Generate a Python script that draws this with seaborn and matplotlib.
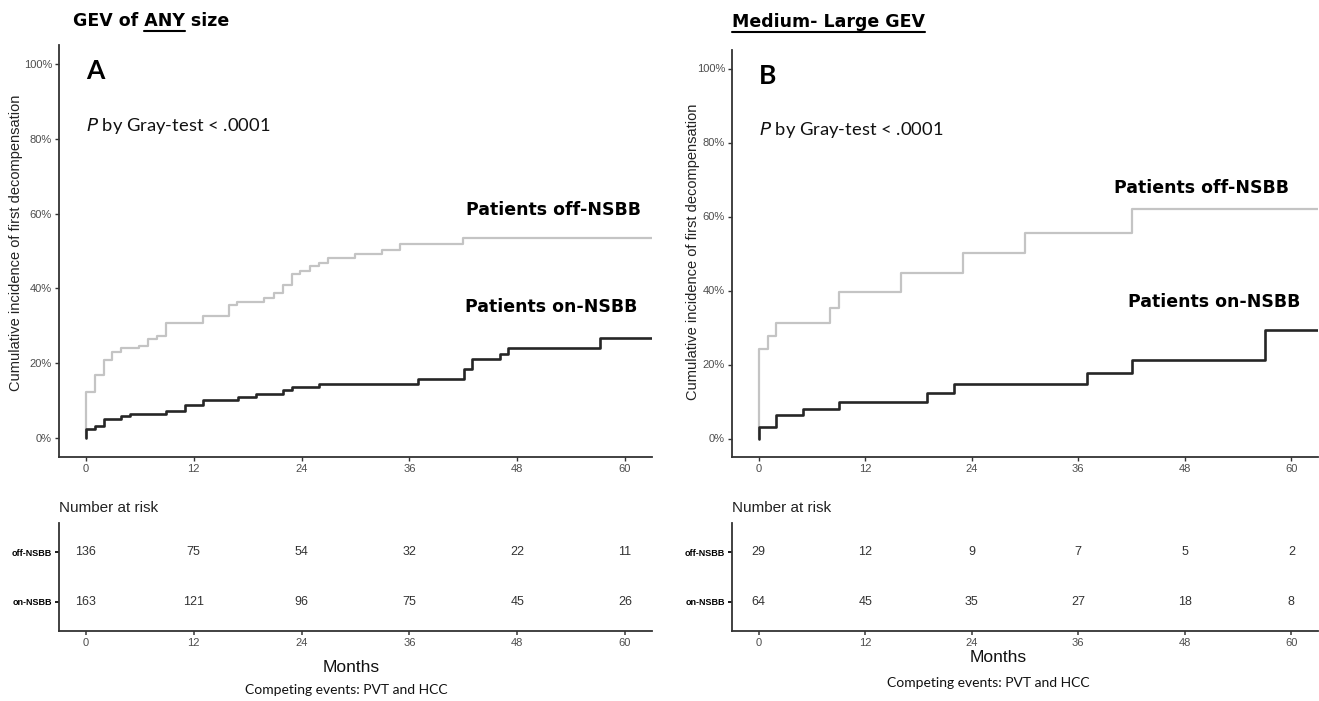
import numpy as np
import pandas as pd
import matplotlib
matplotlib.use("Agg")
import matplotlib.pyplot as plt
from matplotlib.lines import Line2D
import seaborn as sns

# ---------------- data ----------------
months_ticks = [0, 12, 24, 36, 48, 60]
pct_ticks = [0, 20, 40, 60, 80, 100]
groups = ["off-NSBB", "on-NSBB"]

# Panel A (GEV of any size)
a_off_t = [0, 0, 1, 2, 2.9, 3.9, 5.9, 6.9, 7.9, 8.9, 13, 15.9, 16.8, 19.8, 20.9, 21.9,
           22.9, 23.8, 24.9, 25.9, 26.9, 29.9, 33, 34.9, 42, 63]
a_off_y = [0, 12.4, 17.0, 20.9, 23.1, 24.0, 24.7, 26.4, 27.3, 30.8, 32.6, 35.6, 36.5, 37.5,
           38.7, 40.8, 43.8, 44.7, 46.0, 46.9, 48.0, 49.2, 50.4, 52.0, 53.6, 53.6]
a_on_t = [0, 0, 1, 2, 3.9, 4.9, 8.9, 11, 13, 16.9, 18.9, 21.9, 22.9, 25.9, 37, 42.1, 43,
          46.1, 47, 57.2, 63]
a_on_y = [0, 2.4, 3.2, 5.1, 5.9, 6.6, 7.3, 8.8, 10.3, 11.1, 11.9, 12.8, 13.7, 14.5, 15.8,
          18.4, 21.1, 22.6, 24.2, 26.8, 26.8]
a_risk_off = [136, 75, 54, 32, 22, 11]
a_risk_on = [163, 121, 96, 75, 45, 26]

# Panel B (medium-large GEV)
b_off_t = [0, 0, 1, 2, 8, 9, 16, 23, 30, 42, 63]
b_off_y = [0, 24.2, 27.6, 31.3, 35.2, 39.6, 44.7, 50.1, 55.6, 62.0, 62.0]
b_on_t = [0, 0, 2, 5, 9, 19, 22, 37, 42, 57, 63]
b_on_y = [0, 3.2, 6.4, 8.1, 10.0, 12.4, 14.6, 17.8, 21.3, 29.2, 29.2]
b_risk_off = [29, 12, 9, 7, 5, 2]
b_risk_on = [64, 45, 35, 27, 18, 8]

# ---------------- style ----------------
sns.set_theme(style="ticks")
plt.rcParams["font.family"] = ["Liberation Sans", "DejaVu Sans"]
plt.rcParams["axes.linewidth"] = 1.3
plt.rcParams["axes.edgecolor"] = "#333333"

W, H = 1319, 701
fig = plt.figure(figsize=(W / 100, H / 100), dpi=100)

def rect(l, t, r, b):
    return [l / W, 1 - b / H, (r - l) / W, (b - t) / H]

palette = {"off-NSBB": "#c4c4c4", "on-NSBB": "#262626"}
calib = ["Lato", "DejaVu Sans"]
wide = ["DejaVu Sans"]
tick_col = "#4d4d4d"


def panel(main_rect, tab_rect, off_t, off_y, on_t, on_y, risk_off, risk_on,
          letter, off_lab_xy, on_lab_xy, nar_x, months_xy, comp_xy, ylab_xy):
    ax = fig.add_axes(rect(*main_rect))
    df = pd.concat([
        pd.DataFrame({"month": off_t, "cif": off_y, "group": "off-NSBB"}),
        pd.DataFrame({"month": on_t, "cif": on_y, "group": "on-NSBB"}),
    ], ignore_index=True)
    for g, lw in [("off-NSBB", 1.6), ("on-NSBB", 1.9)]:
        sns.lineplot(data=df[df.group == g], x="month", y="cif", color=palette[g],
                     drawstyle="steps-post", sort=False, estimator=None,
                     linewidth=lw, ax=ax, legend=False)
    ax.set_xlim(-3, 63)
    ax.set_ylim(-5, 105)
    ax.set_xticks(months_ticks)
    ax.set_yticks(pct_ticks)
    ax.set_yticklabels([f"{p}%" for p in pct_ticks])
    ax.tick_params(axis="both", labelsize=8, colors=tick_col, length=3, width=1,
                   pad=2)
    ax.tick_params(axis="both", color="#333333")
    ax.set_xlabel("")
    ax.set_ylabel("")
    sns.despine(ax=ax)
    ax.text(0.0, 98.0, letter, fontsize=19, fontweight="bold", family=calib,
            ha="left", va="center", color="black")
    ax.text(0.0, 83.5, r"$\it{P}$ by Gray-test < .0001", fontsize=13.2,
            family=calib, ha="left", va="center", color="#111111")
    ax.text(off_lab_xy[0], off_lab_xy[1], "Patients off-NSBB", fontsize=12.5,
            fontweight="bold", family=wide, ha="left", va="center", color="black")
    ax.text(on_lab_xy[0], on_lab_xy[1], "Patients on-NSBB", fontsize=12.5,
            fontweight="bold", family=wide, ha="left", va="center", color="black")
    fig.text(ylab_xy[0] / W, 1 - ylab_xy[1] / H,
             "Cumulative incidence of first decompensation", rotation=90,
             fontsize=10.5, ha="center", va="center", color="#222222")

    # risk table
    tb = fig.add_axes(rect(*tab_rect))
    tb.set_xlim(-3, 63)
    tb.set_ylim(0.4, 2.6)
    for m, n in zip(months_ticks, risk_off):
        tb.text(m, 2, str(n), ha="center", va="center", fontsize=9, color="#333333")
    for m, n in zip(months_ticks, risk_on):
        tb.text(m, 1, str(n), ha="center", va="center", fontsize=9, color="#333333")
    tb.set_xticks(months_ticks)
    tb.set_yticks([2, 1])
    tb.set_yticklabels(groups)
    tb.tick_params(axis="x", labelsize=8, colors=tick_col, length=3, pad=2)
    tb.tick_params(axis="y", labelsize=6.5, colors="black", length=3, pad=2)
    for lbl in tb.get_yticklabels():
        lbl.set_fontweight("bold")
    sns.despine(ax=tb)
    fig.text(nar_x / W, 1 - 508 / H, "Number at risk", fontsize=11, ha="left",
             va="center", color="#222222")
    fig.text(months_xy[0] / W, 1 - months_xy[1] / H, "Months", fontsize=12.5,
             ha="center", va="center", color="#111111")
    fig.text(comp_xy[0] / W, 1 - comp_xy[1] / H, "Competing events: PVT and HCC",
             fontsize=10, family=calib, ha="center", va="center", color="#111111")
    return ax


panel((59, 45, 652, 457), (59, 523, 652, 631), a_off_t, a_off_y, a_on_t, a_on_y,
      a_risk_off, a_risk_on, "A", (42.3, 61), (42.2, 35), 59, (351, 668), (346, 690),
      (16, 243))
panel((732, 50, 1318, 457), (732, 523, 1318, 631), b_off_t, b_off_y, b_on_t, b_on_y,
      b_risk_off, b_risk_on, "B", (40.0, 67.7), (41.6, 36.8), 732, (998, 657),
      (988, 683), (693, 252))

# titles with underline
fig.canvas.draw()
r = fig.canvas.get_renderer()
ty = 1 - 21 / H
tkw = dict(fontsize=12.5, fontweight="bold", family=wide, ha="left", va="center",
           color="black")
tA = fig.text(73 / W, ty, "GEV of ANY size", **tkw)
pre = fig.text(73 / W, ty, "GEV of ANY", alpha=0, **tkw)
anyw = fig.text(73 / W, ty, "ANY", alpha=0, **tkw)
fig.canvas.draw()
bb_pre = pre.get_window_extent(r)
bb_any = anyw.get_window_extent(r)
bb_t = tA.get_window_extent(r)
x1 = bb_pre.x1
x0 = x1 - bb_any.width
uy = bb_t.y0 - 1
fig.add_artist(Line2D([x0 / W, x1 / W], [uy / H, uy / H], color="black", lw=1.5))

tB = fig.text(732 / W, 1 - 22 / H, "Medium- Large GEV", **tkw)
fig.canvas.draw()
bb = tB.get_window_extent(r)
fig.add_artist(Line2D([bb.x0 / W, bb.x1 / W], [(bb.y0 - 1) / H, (bb.y0 - 1) / H],
                      color="black", lw=1.5))

fig.savefig("out.png", dpi=100)
